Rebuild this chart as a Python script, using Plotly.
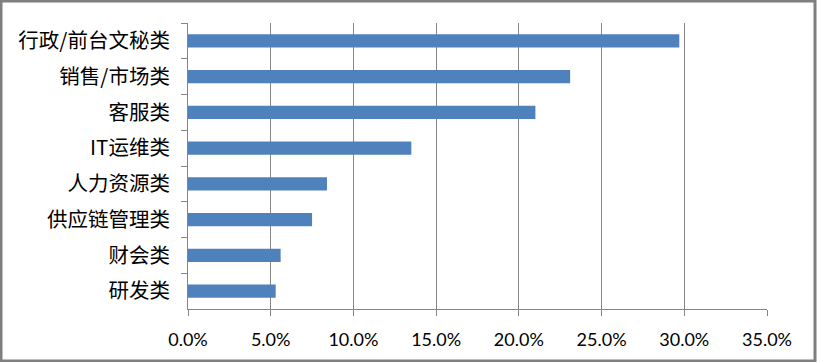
import plotly.graph_objects as go

categories = ["行政/前台文秘类", "销售/市场类", "客服类", "IT运维类", "人力资源类", "供应链管理类", "财会类", "研发类"]
values = [0.297, 0.231, 0.210, 0.135, 0.084, 0.075, 0.056, 0.053]

W, H = 817, 362
ml, mr, mt, mb = 188, 50, 23, 53
pw, ph = W - ml - mr, H - mt - mb

fig = go.Figure(go.Bar(
    x=values, y=categories, orientation="h",
    marker=dict(color="#4F81BD", line=dict(width=0)),
    hoverinfo="skip",
))

axis_col = "#868686"
fig.update_layout(
    width=W, height=H,
    margin=dict(l=ml, r=mr, t=mt, b=mb, pad=0, autoexpand=False),
    paper_bgcolor="white", plot_bgcolor="white",
    bargap=0.63,
    showlegend=False,
    xaxis=dict(
        range=[0, 0.35], dtick=0.05, tick0=0, tickformat=".1%",
        showgrid=True, gridcolor=axis_col, gridwidth=1,
        zeroline=False, showline=True, linecolor=axis_col, linewidth=1,
        ticks="outside", ticklen=6, tickcolor=axis_col,
        tickfont=dict(family="Lato", size=18, color="black"),
        ticklabelstandoff=8, automargin=False,
    ),
    yaxis=dict(
        autorange="reversed", type="category",
        showgrid=False, zeroline=False, showline=True, linecolor=axis_col, linewidth=1,
        ticks="outside", ticklen=6, tickcolor=axis_col, tickson="boundaries",
        tickfont=dict(family="Noto Sans CJK SC", size=20.5, color="black"),
        ticklabelstandoff=13, automargin=False,
    ),
    shapes=[dict(
        type="rect", xref="paper", yref="paper",
        x0=-(ml - 1) / pw, x1=1 + (mr - 2) / pw,
        y0=-(mb - 1) / ph, y1=1 + (mt - 1) / ph,
        line=dict(color="#7f7f7f", width=3), fillcolor="rgba(0,0,0,0)",
        layer="above",
    )],
)

fig.write_html(
    "out.html",
    config={"displayModeBar": False},
    post_script="document.body.style.margin='0';document.body.style.overflow='hidden';",
)
